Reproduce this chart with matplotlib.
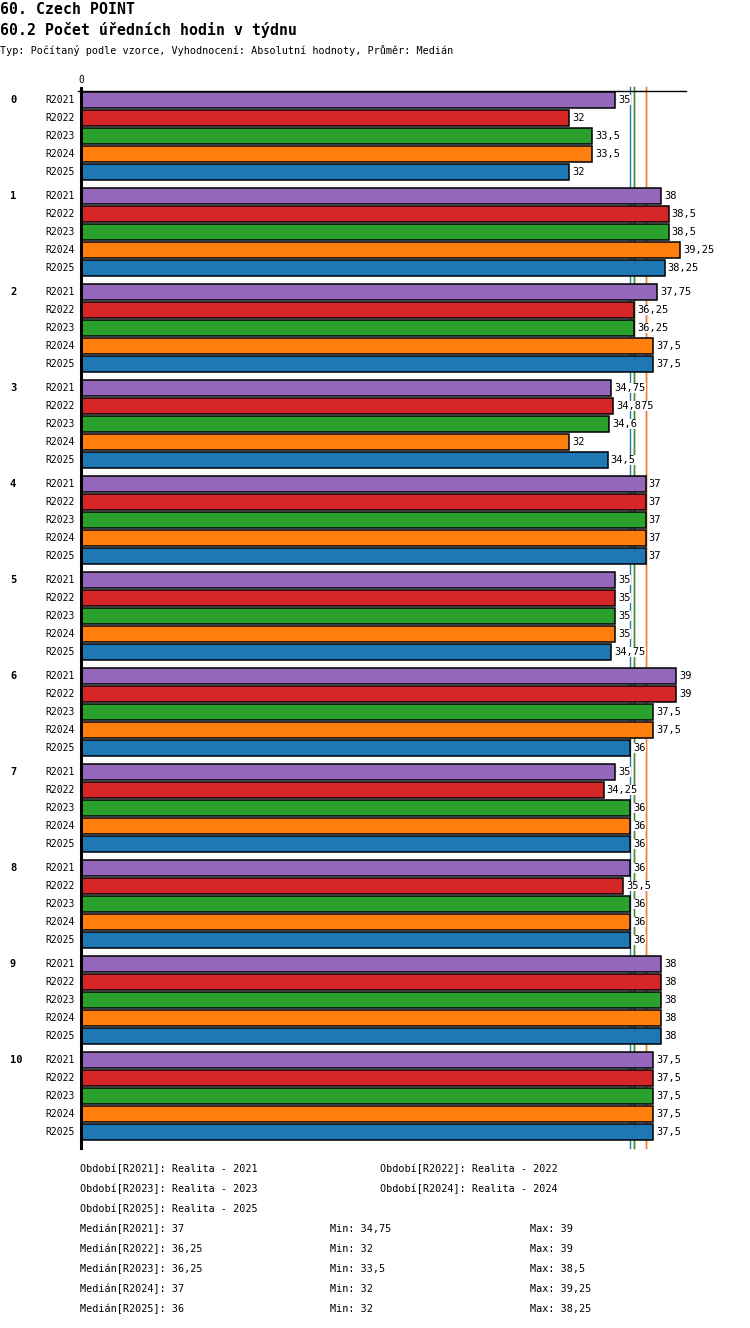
import matplotlib
matplotlib.use("Agg")
import matplotlib.pyplot as plt
import matplotlib.transforms as mtransforms

W, H = 750, 1328

series = ["R2021", "R2022", "R2023", "R2024", "R2025"]
colors = ["#9467bd", "#d62728", "#2ca02c", "#ff7f0e", "#1f77b4"]
groups = [str(i) for i in range(11)]
values = {
    "R2021": [35, 38, 37.75, 34.75, 37, 35, 39, 35, 36, 38, 37.5],
    "R2022": [32, 38.5, 36.25, 34.875, 37, 35, 39, 34.25, 35.5, 38, 37.5],
    "R2023": [33.5, 38.5, 36.25, 34.6, 37, 35, 37.5, 36, 36, 38, 37.5],
    "R2024": [33.5, 39.25, 37.5, 32, 37, 35, 37.5, 36, 36, 38, 37.5],
    "R2025": [32, 38.25, 37.5, 34.5, 37, 34.75, 36, 36, 36, 38, 37.5],
}
medians = [37, 36.25, 36.25, 37, 36]
mins = [34.75, 32, 33.5, 32, 32]
maxs = [39, 39, 38.5, 39.25, 38.25]
period_names = ["Realita - 2021", "Realita - 2022", "Realita - 2023", "Realita - 2024", "Realita - 2025"]

title1 = "60. Czech POINT"
title2 = "60.2 Počet úředních hodin v týdnu"
subtitle = "Typ: Počítaný podle vzorce, Vyhodnocení: Absolutní hodnoty, Průměr: Medián"

MONO = ["DejaVu Sans Mono"]


def fmt(v):
    s = ("%.3f" % v).rstrip("0").rstrip(".")
    return s.replace(".", ",")


fig = plt.figure(figsize=(W / 100, H / 100), dpi=100)
fig.patch.set_facecolor("white")

ax_top, ax_bot, ax_left, ax_right = 91, 1148, 81, 686
ax = fig.add_axes([ax_left / W, 1 - ax_bot / H, (ax_right - ax_left) / W, (ax_bot - ax_top) / H])
ax.set_ylim(ax_bot, ax_top)
xmax = max(maxs) * 1.01
ax.set_xlim(0, xmax)

for s in ["right", "bottom"]:
    ax.spines[s].set_visible(False)
ax.spines["top"].set_linewidth(1)
ax.spines["left"].set_linewidth(2.2)
ax.spines["left"].set_zorder(5)
ax.set_yticks([])
ax.xaxis.tick_top()
ax.set_xticks([0])
ax.set_xticklabels(["0"], family=MONO, fontsize=7)
ax.tick_params(axis="x", length=0, pad=4)

# small stub left of the origin and upward extension of the value axis
ax.plot([-0.2, 0], [ax_top, ax_top], color="black", lw=1, clip_on=False, zorder=5)
ax.plot([0, 0], [ax_top, ax_top - 3], color="black", lw=2.2, clip_on=False, zorder=5)

blend = mtransforms.blended_transform_factory(fig.transFigure, ax.transData)

# median lines
for j, (m, c) in enumerate(zip(medians, colors)):
    ax.plot([m, m], [ax_bot, ax_top - 4], color=c, lw=1, zorder=1, clip_on=False)

for i, g in enumerate(groups):
    base = 100 + 96 * i
    ax.text(10 / W, base, g, transform=blend, ha="left", va="center",
            family=MONO, fontsize=7.5, fontweight="bold")
    for j, s in enumerate(series):
        y = base + 18 * j
        v = values[s][i]
        ax.barh(y, v, height=16, color=colors[j], edgecolor="black", linewidth=1.1, zorder=3)
        ax.text(75 / W, y, s, transform=blend, ha="right", va="center",
                family=MONO, fontsize=7)
        ax.text(v + 0.2, y, fmt(v), ha="left", va="center", family=MONO, fontsize=7.5,
                zorder=4, bbox=dict(facecolor="white", edgecolor="none", pad=0.3))

# titles
fig.text(0, 1 - 13.5 / H, title1, family=MONO, fontsize=10.7, fontweight="bold", ha="left", va="baseline")
fig.text(0, 1 - 35.5 / H, title2, family=MONO, fontsize=10.7, fontweight="bold", ha="left", va="baseline")
fig.text(0, 1 - 54.5 / H, subtitle, family=MONO, fontsize=7.3, ha="left", va="baseline")

# legend / stats text
small = dict(family=MONO, fontsize=7.3, ha="left", va="center")
period_pos = [(80, 1169), (380, 1169), (80, 1189), (380, 1189), (80, 1209)]
for (x, y), s, n in zip(period_pos, series, period_names):
    fig.text(x / W, 1 - y / H, "Období[%s]: %s" % (s, n), **small)
for k, s in enumerate(series):
    y = 1229 + 20 * k
    fig.text(80 / W, 1 - y / H, "Medián[%s]: %s" % (s, fmt(medians[k])), **small)
    fig.text(330 / W, 1 - y / H, "Min: %s" % fmt(mins[k]), **small)
    fig.text(530 / W, 1 - y / H, "Max: %s" % fmt(maxs[k]), **small)

fig.savefig("out.png", dpi=100, facecolor="white")
